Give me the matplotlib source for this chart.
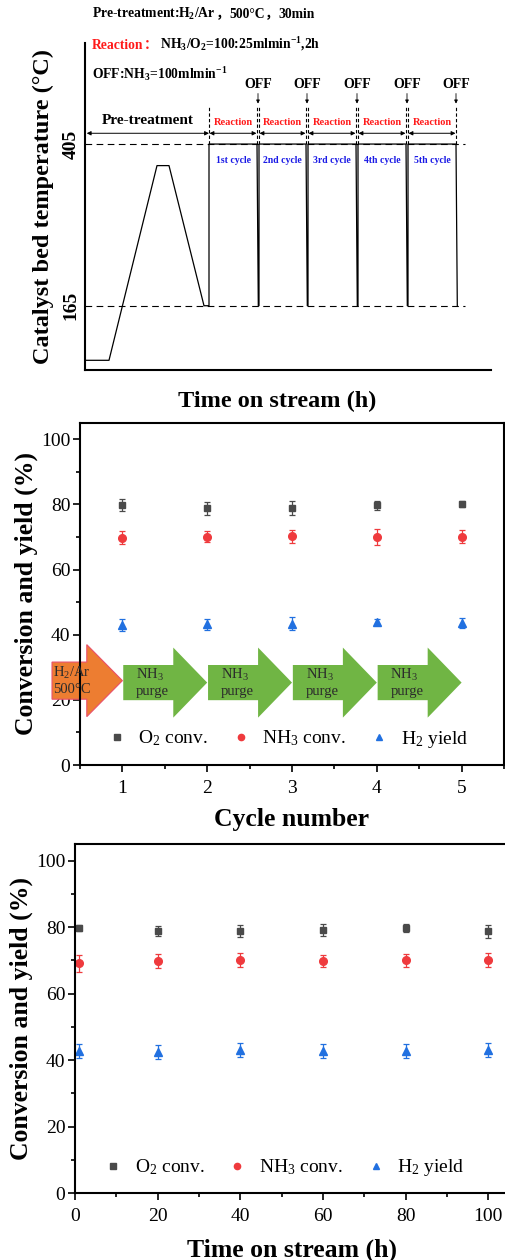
import matplotlib
matplotlib.use('Agg')
import matplotlib.pyplot as plt
from matplotlib.lines import Line2D
from matplotlib.patches import FancyArrow
from matplotlib.ticker import MultipleLocator

plt.rcParams['font.family'] = ['Liberation Serif', 'Noto Sans CJK SC']
plt.rcParams['mathtext.fontset'] = 'custom'
plt.rcParams['mathtext.rm'] = 'Liberation Serif'
plt.rcParams['mathtext.bf'] = 'Liberation Serif:bold'
plt.rcParams['mathtext.default'] = 'regular'

W, H = 506, 1260

# panel 1 - temperature programme (schematic, arbitrary time units)
pre_t = [0, 24, 72, 84, 119, 124]
pre_T = [84, 84, 373, 373, 165, 165]
cycle_on = [124, 174, 223, 273, 323]
cycle_off = [172, 221, 271, 321, 371]
cycle_names = ['1st cycle', '2nd cycle', '3rd cycle', '4th cycle', '5th cycle']
T_low, T_high = 165, 405

# panel 2 - cycling test
cycles = [1, 2, 3, 4, 5]
o2_cyc = [79.8, 78.8, 78.8, 79.8, 80.0]
o2_cyc_err = [1.8, 1.9, 2.1, 1.4, 0.9]
nh3_cyc = [69.8, 70.1, 70.2, 70.0, 70.1]
nh3_cyc_err = [2.1, 1.7, 1.9, 2.4, 1.9]
h2_cyc = [42.9, 43.2, 43.4, 43.9, 43.7]
h2_cyc_err = [1.9, 1.7, 1.9, 1.0, 1.5]

# panel 3 - stability test
tos = [1, 20, 40, 60, 80, 100]
o2_tos = [79.7, 78.8, 78.9, 79.1, 79.7, 78.7]
o2_tos_err = [0.8, 1.5, 1.8, 1.7, 1.2, 2.0]
nh3_tos = [69.1, 69.8, 70.0, 69.8, 70.0, 70.0]
nh3_tos_err = [2.5, 2.0, 2.1, 1.9, 2.0, 2.1]
h2_tos = [42.7, 42.5, 43.0, 42.7, 42.7, 43.0]
h2_tos_err = [2.1, 2.1, 2.2, 2.1, 2.1, 2.1]

labels = ['O$_2$ conv.', 'NH$_3$ conv.', 'H$_2$ yield']
c_o2, c_nh3, c_h2 = '#4a4a4a', '#ef3a3d', '#2170e0'

fig = plt.figure(figsize=(W / 100, H / 100), dpi=100)
rend = fig.canvas.get_renderer()


def put_line(x, y, pieces, size):
    # pieces placed one after another, x/y in pixels from top left
    cur = x
    for s, col in pieces:
        t = fig.text(cur / W, 1 - y / H, s, color=col, size=size,
                     weight='bold', va='baseline', ha='left')
        cur = t.get_window_extent(rend).x1


# ---------- panel 1 ----------
ax1 = fig.add_axes([85 / W, 1 - 370 / H, 406 / W, 327 / H])
ax1.set_xlim(0, 406)
ax1.set_ylim(69.6, 555)
ax1.spines['top'].set_visible(False)
ax1.spines['right'].set_visible(False)
ax1.spines['left'].set_linewidth(1.5)
ax1.spines['bottom'].set_linewidth(1.5)
ax1.set_xticks([])
ax1.set_yticks([T_low, T_high])
ax1.set_yticklabels([str(T_low), str(T_high)], rotation=90, va='center',
                    fontsize=14, fontweight='bold')
ax1.tick_params(axis='y', length=0, pad=4)

prof_t = list(pre_t)
prof_T = list(pre_T)
for on, off in zip(cycle_on, cycle_off):
    prof_t += [on, on, off, off + 1.3]
    prof_T += [T_low, T_high, T_high, T_low]
ax1.plot(prof_t, prof_T, color='k', lw=0.9)

for T in [T_low, T_high]:
    ax1.plot([0, 380], [T, T], color='k', lw=0.8, ls=(0, (6, 4)))

for x in cycle_on + cycle_off:
    ax1.plot([x, x], [T_high, 460], color='k', lw=0.8, ls=(0, (3, 2)))

arr = dict(arrowstyle='<|-|>', lw=0.7, color='k', mutation_scale=6,
           shrinkA=0, shrinkB=0)
ax1.annotate('', xy=(1.7, 421), xytext=(cycle_on[0], 421), arrowprops=arr)
ax1.text(63, 440.6, 'Pre-treatment', ha='center', va='center', fontsize=11,
         fontweight='bold')
for i, (on, off) in enumerate(zip(cycle_on, cycle_off)):
    mid = (on + off) / 2
    ax1.annotate('', xy=(on + 0.5, 421), xytext=(off - 0.5, 421), arrowprops=arr)
    ax1.text(mid, 437.6, 'Reaction', ha='center', va='center', fontsize=7.5,
             fontweight='bold', color='#ff1a1a')
    ax1.text(mid, 381, cycle_names[i], ha='center', va='center', fontsize=7,
             fontweight='bold', color='#1a1ae6')
    xo = off + 1 if i < len(cycle_off) - 1 else off
    ax1.annotate('', xy=(xo, 465), xytext=(xo, 480),
                 arrowprops=dict(arrowstyle='-|>', lw=0.6, color='k',
                                 mutation_scale=5, shrinkA=0, shrinkB=0))
    ax1.text(xo, 494, 'OFF', ha='center', va='center', fontsize=10,
             fontweight='bold')

ax1.set_xlabel('Time on stream (h)', fontsize=17.5, fontweight='bold')
ax1.xaxis.set_label_coords(0.473, -0.065)
ax1.set_ylabel('Catalyst bed temperature (°C)', fontsize=17.5,
               fontweight='bold', labelpad=6)

put_line(92, 18, [('Pre-treatment:H$_2$/Ar', 'k'), ('，', 'k'), ('500°C', 'k'),
                  ('，', 'k'), ('30min', 'k')], 9.8)
put_line(92, 49, [('Reaction', '#ff1a1a'), ('：', '#ff1a1a'),
                  (' NH$_3$/O$_2$=100:25mlmin$^{-1}$,2h', 'k')], 9.8)
put_line(92, 79, [('OFF:NH$_3$=100mlmin$^{-1}$', 'k')], 9.8)


def style_axes(ax, xmin_step):
    for s in ax.spines.values():
        s.set_linewidth(1.5)
        s.set_zorder(5)
    ax.set_ylim(0, 105)
    ax.yaxis.set_major_locator(MultipleLocator(20))
    ax.yaxis.set_minor_locator(MultipleLocator(10))
    ax.xaxis.set_minor_locator(MultipleLocator(xmin_step))
    ax.tick_params(which='both', direction='out', width=1.2, labelsize=14)
    ax.tick_params(which='major', length=5, pad=2)
    ax.tick_params(axis='x', which='major', pad=5.5)
    ax.tick_params(which='minor', length=3)
    ax.set_ylabel('Conversion and yield (%)', fontsize=18.5, fontweight='bold',
                  labelpad=2)


def draw_series(ax, x, ys, errs):
    for y, e, m, c, ms in zip(ys, errs, ['s', 'o', '^'], [c_o2, c_nh3, c_h2],
                              [5, 5.5, 5.5]):
        ax.errorbar(x, y, yerr=e, fmt=m, color=c, ms=ms, capsize=2.5,
                    elinewidth=0.9, capthick=0.9, zorder=4)
    handles = [Line2D([], [], ls='none', marker=m, color=c, ms=4.5)
               for m, c in zip(['s', 'o', '^'], [c_o2, c_nh3, c_h2])]
    return handles


# ---------- panel 2 ----------
ax2 = fig.add_axes([80 / W, 1 - 765 / H, 424 / W, 342 / H])
ax2.set_xlim(0.5, 5.5)
ax2.set_xticks(cycles)
style_axes(ax2, 0.5)
hd = draw_series(ax2, cycles, [o2_cyc, nh3_cyc, h2_cyc],
                 [o2_cyc_err, nh3_cyc_err, h2_cyc_err])
ax2.legend(hd, labels, loc='center left', bbox_to_anchor=(0.068, 0.076), ncol=3,
           frameon=False, fontsize=14, handlelength=0.8, handletextpad=0.7,
           columnspacing=1.3, borderaxespad=0, borderpad=0)

ax2.add_patch(FancyArrow(cycles[0] - 0.83, 25.9, 0.83, 0, width=11.4,
                         head_width=22.1, head_length=0.42,
                         length_includes_head=True, fc='#ed7d31', ec='#e8506a',
                         lw=0.8, clip_on=False, zorder=3))
ax2.text(cycles[0] - 0.82, 25.9, 'H$_2$/Ar\n500°C', ha='left', va='center',
         fontsize=10.5, color='#2b2b2b', zorder=6)
for a, b in zip(cycles[:-1], cycles[1:]):
    ax2.add_patch(FancyArrow(a + 0.01, 25.3, b - a - 0.01, 0, width=10.8,
                             head_width=21.5, head_length=0.4,
                             length_includes_head=True, fc='#70b544',
                             ec='none', zorder=3))
    ax2.text(a + 0.16, 25.2, 'NH$_3$\npurge', ha='left', va='center',
             fontsize=10.5, color='#2b2b2b', zorder=6)
ax2.set_xlabel('Cycle number', fontsize=18.5, fontweight='bold', labelpad=8)

# ---------- panel 3 ----------
ax3 = fig.add_axes([75 / W, 1 - 1193 / H, 434 / W, 349 / H])
ax3.set_xlim(0, 105)
ax3.set_xticks(range(0, 101, 20))
style_axes(ax3, 10)
hd = draw_series(ax3, tos, [o2_tos, nh3_tos, h2_tos],
                 [o2_tos_err, nh3_tos_err, h2_tos_err])
ax3.legend(hd, labels, loc='center left', bbox_to_anchor=(0.07, 0.072), ncol=3,
           frameon=False, fontsize=14, handlelength=0.8, handletextpad=0.7,
           columnspacing=1.3, borderaxespad=0, borderpad=0)
ax3.set_xlabel('Time on stream (h)', fontsize=18.5, fontweight='bold', labelpad=10)

fig.savefig('out.png', dpi=100)
